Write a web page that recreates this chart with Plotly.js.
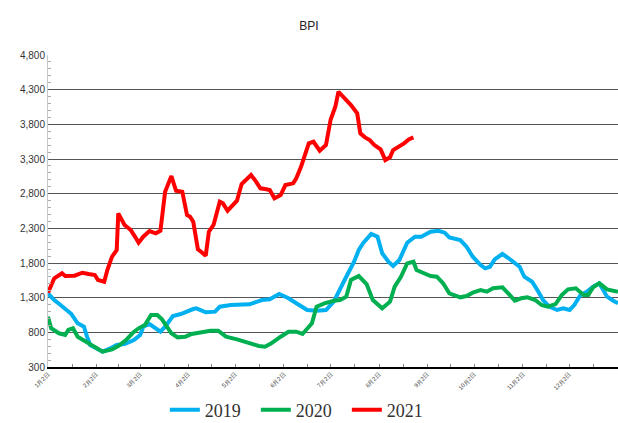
<!DOCTYPE html>
<html>
<head>
<meta charset="utf-8">
<script src="https://cdn.plot.ly/plotly-3.0.1.min.js"></script>
<style>
html,body{margin:0;padding:0;background:#fff;overflow:hidden;}
#chart{width:618px;height:423px;}
</style>
</head>
<body>
<div id="chart"></div>
<script>
// Day offsets counted from 1月2日 (day 0)
const monthTickDays = [0, 31, 59, 90, 120, 151, 181, 212, 243, 273, 304, 334];
const monthTickLabels = ["1月2日","2月2日","3月2日","4月2日","5月2日","6月2日","7月2日","8月2日","9月2日","10月2日","11月2日","12月2日"];
const seriesNames = ["2019", "2020", "2021"];
const seriesColors = ["#00B0F0", "#00B050", "#FF0000"];

const days2019 = [0,4,8,12,15,19,23,25,27,32,35,40,44,49,55,59,61,65,69,72,75,80,85,89,93,95,101,107,110,117,129,137,142,148,154,159,166,172,178,183,187,191,196,199,202,207,211,214,218,221,225,230,235,239,245,250,254,257,264,268,272,277,280,283,286,291,295,299,302,305,310,314,317,321,326,330,334,337,341,345,349,353,358,362,365];
const bpi2019 = [1360,1266,1194,1122,1064,930,881,737,617,555,521,570,617,632,689,761,881,920,858,809,881,1035,1064,1107,1136,1146,1089,1098,1170,1194,1204,1266,1276,1353,1291,1219,1122,1112,1122,1242,1430,1602,1818,1987,2092,2218,2179,1940,1818,1756,1843,2092,2179,2179,2251,2265,2237,2170,2131,2035,1891,1771,1723,1746,1853,1930,1868,1795,1746,1602,1530,1386,1266,1170,1122,1146,1122,1194,1338,1386,1458,1507,1314,1256,1218];

const days2020 = [0,2,7,11,13,16,19,24,28,32,35,41,45,50,54,58,62,66,70,73,76,79,83,88,92,97,104,109,114,121,128,135,139,143,149,154,159,163,169,172,177,183,187,191,194,199,204,208,214,219,222,226,230,234,236,240,245,249,253,257,264,268,272,277,281,285,291,295,299,303,307,312,316,320,325,329,333,338,343,346,349,353,358,365];
const bpi2020 = [1025,858,786,761,834,858,737,665,617,555,521,555,603,689,786,858,906,1050,1050,988,881,786,728,737,776,795,824,824,737,699,650,603,593,641,737,809,809,776,930,1170,1218,1256,1266,1314,1555,1612,1497,1266,1146,1242,1458,1602,1795,1818,1699,1660,1612,1602,1507,1362,1305,1324,1372,1410,1386,1435,1449,1353,1256,1291,1305,1266,1194,1170,1208,1338,1420,1435,1338,1338,1449,1507,1420,1386];

const days2021 = [0,4,9,11,17,22,26,30,32,36,38,41,44,45,49,53,56,58,61,65,69,72,75,79,82,86,89,91,93,96,98,101,103,106,110,112,115,118,121,124,127,130,133,136,139,142,145,149,152,157,159,162,167,170,174,178,181,184,186,190,194,198,200,203,206,209,213,216,219,221,224,228,231,234];
const bpi2021 = [1370,1579,1651,1612,1617,1660,1641,1627,1555,1530,1699,1891,1987,2516,2348,2275,2170,2092,2179,2261,2228,2265,2828,3054,2842,2828,2492,2467,2395,1997,1963,1905,2251,2348,2684,2660,2554,2636,2698,2939,2997,3069,2982,2877,2867,2852,2733,2780,2924,2949,3021,3188,3526,3549,3419,3501,3870,4053,4270,4175,4078,3958,3670,3612,3573,3501,3439,3285,3324,3429,3468,3526,3583,3612];

const allDays = [days2019, days2020, days2021];
const allValues = [bpi2019, bpi2020, bpi2021];

// tick positions: month starts with labels, half-month ticks without labels
const tickVals = [];
const tickText = [];
monthTickDays.forEach((d, i) => {
  tickVals.push(d); tickText.push(monthTickLabels[i]);
  const next = i + 1 < monthTickDays.length ? monthTickDays[i + 1] : 365;
  tickVals.push((d + next) / 2); tickText.push("");
});

const traces = seriesNames.map((name, i) => ({
  type: "scatter",
  mode: "lines",
  name: name,
  x: allDays[i],
  y: allValues[i],
  line: {color: seriesColors[i], width: 4},
  hoverinfo: "skip"
}));

const layout = {
  width: 618,
  height: 423,
  margin: {l: 48, r: 0, t: 55, b: 56, autoexpand: false},
  paper_bgcolor: "#ffffff",
  plot_bgcolor: "#ffffff",
  title: {
    text: "BPI",
    font: {family: "Liberation Sans, Arial, sans-serif", size: 12, color: "#222"},
    x: 0.5, xanchor: "center",
    yref: "container", y: 0.94, yanchor: "middle"
  },
  xaxis: {
    range: [0, 365],
    automargin: false,
    tickmode: "array",
    tickvals: tickVals,
    ticktext: tickText,
    tickangle: -45,
    tickfont: {family: "Liberation Sans, Arial, sans-serif", size: 6, color: "#444"},
    showgrid: false,
    zeroline: false,
    showline: true,
    linecolor: "#000",
    linewidth: 1.5,
    ticks: "inside",
    ticklen: 3,
    tickcolor: "#888",
    fixedrange: true
  },
  yaxis: {
    range: [300, 4800],
    automargin: false,
    tick0: 300,
    dtick: 500,
    tickformat: ",d",
    tickfont: {family: "Liberation Sans, Arial, sans-serif", size: 10, color: "#333"},
    showgrid: true,
    gridcolor: "#555",
    gridwidth: 1,
    zeroline: false,
    showline: true,
    linecolor: "#c8c8c8",
    linewidth: 1,
    ticks: "",
    minor: {dtick: 100, tick0: 300, ticks: "inside", ticklen: 3, tickcolor: "#aaa", showgrid: false},
    fixedrange: true
  },
  showlegend: true,
  legend: {
    orientation: "h",
    x: 0.205, xanchor: "left",
    y: -0.138, yanchor: "middle",
    font: {family: "Liberation Serif, Times New Roman, serif", size: 18, color: "#333"},
    itemwidth: 30,
    entrywidth: 46,
    entrywidthmode: "pixels",
    borderwidth: 0,
    bgcolor: "rgba(0,0,0,0)"
  }
};

Plotly.newPlot("chart", traces, layout, {staticPlot: true, displayModeBar: false});
</script>
</body>
</html>
